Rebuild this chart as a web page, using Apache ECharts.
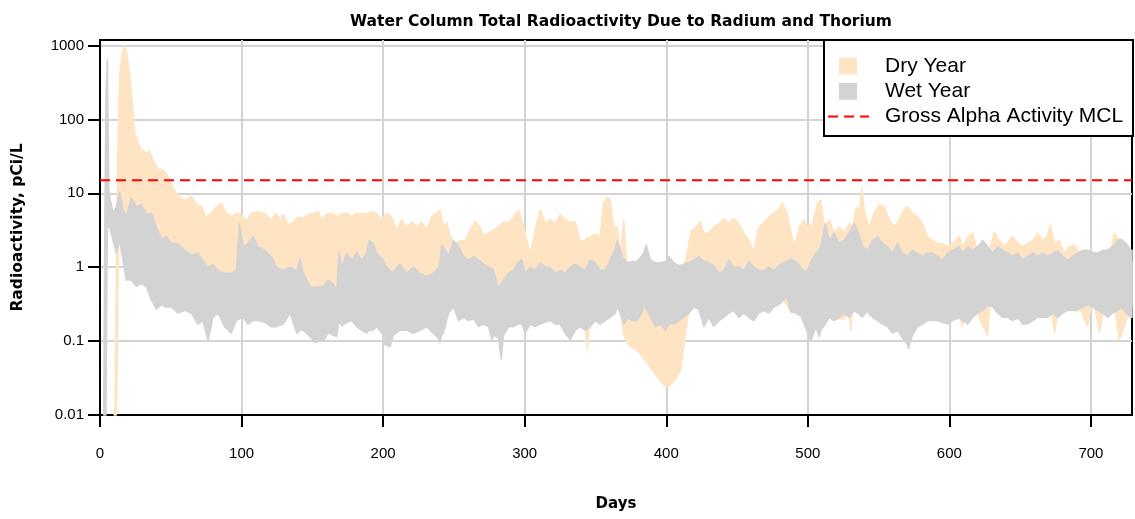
<!DOCTYPE html>
<html>
<head>
<meta charset="utf-8">
<script src="https://cdn.jsdelivr.net/npm/echarts@6.0.0/dist/echarts.min.js"></script>
<style>
html, body { margin: 0; padding: 0; background: #fff; }
#chart { width: 1135px; height: 519px; }
</style>
</head>
<body>
<div id="chart"></div>
<script>
// tick labels
const xTicks = [0, 100, 200, 300, 400, 500, 600, 700];
const yTicks = [0.01, 0.1, 1, 10, 100, 1000];
const xRange = [0, 729];
const mclLevel = 15;

// dry year envelope (pCi/L)
const dryDays = [10.0,10.6,11.5,12.2,12.7,13.4,14.1,15.5,17.4,19.3,21.0,22.1,23.3,24.5,26.8,29.2,32.7,35.0,37.4,41.0,44.5,46.8,49.2,52.7,56.3,59.8,64.5,68.0,71.6,75.1,78.6,82.2,85.7,89.2,92.7,96.3,99.8,103.3,106.9,111.6,116.3,121.0,
  124.0,127.2,129.5,133.0,136.6,140.1,143.6,147.2,150.7,154.2,156.6,160.1,163.6,167.2,170.7,174.2,177.8,181.3,184.8,188.4,191.9,195.4,199.0,202.5,206.0,209.6,213.1,216.6,220.1,223.7,227.2,230.7,234.3,237.8,240.2,242.5,
  245.0,247.4,250.9,254.4,258.0,261.5,265.0,268.6,270.9,274.5,278.0,281.5,285.0,288.6,292.1,295.6,298.0,301.5,303.9,307.4,311.0,314.5,318.0,321.5,325.1,328.6,332.1,335.7,339.2,342.7,344.3,346.3,349.8,353.3,355.7,358.0,360.4,362.8,
  365.4,367.7,370.0,372.0,374.8,379.5,383.0,386.5,390.0,393.6,397.1,400.2,403.0,406.5,410.1,412.4,414.8,417.6,420.7,423.7,426.6,430.1,433.6,437.2,440.7,444.2,447.7,451.3,454.8,458.3,461.9,465.4,468.9,472.5,476.0,479.5,481.9,485.4,
  488.0,490.4,494.0,497.4,499.8,503.3,506.9,509.2,511.6,515.1,518.6,522.2,525.7,529.2,530.4,531.6,534.4,536.3,538.2,540.1,543.4,546.9,550.4,553.9,557.5,561.0,564.5,568.1,570.4,573.9,577.5,581.0,584.5,588.1,591.6,595.1,598.7,602.2,607.0,
  609.4,611.8,614.1,616.5,618.9,621.2,624.7,627.0,628.3,631.8,635.3,638.9,642.4,644.7,648.3,651.8,655.3,658.9,662.4,665.9,669.0,671.4,674.2,677.7,681.2,684.8,688.3,691.8,695.4,697.7,700.0,702.4,706.0,709.5,713.0,716.5,720.1,723.6,728.3,729.0];
const dryHi = [0.0045,0.012,0.8,8,53,180,420,750,1000,710,380,250,135,65,50,39,35,38,28,21,21,18.7,15,11,9,8,9,7.3,6.6,4.8,5.4,6.6,7.4,5.4,4.8,5.4,5.2,4.2,5.4,5.7,5.4,4.4,
  5.4,4.4,5.2,3.7,4.1,4.8,4.6,5.2,5.4,5.7,4.4,5.2,5.4,4.8,5.2,5.4,4.8,5.4,5.2,5.4,5.7,5.4,4.4,5.4,4.8,3.2,4.4,3.5,4.1,3.5,4.1,3.2,4.8,5.4,6,3.5,
  4.0,2.6,2.1,2.3,2.3,3.2,4.2,3.5,2.7,2.9,3.2,3.5,4.1,4.0,4.8,6,4.4,2.3,1.55,3.2,6,3.9,4.4,3.9,5.2,4.4,4.1,4.1,2.3,2.3,2.5,2.6,2.8,2.6,7.4,9,8.1,3.5,
  3.5,1.55,4.4,1.2,0.9,0.9,0.9,0.9,0.85,0.8,0.8,0.8,0.8,0.8,0.9,1.0,1.55,3.1,3.4,4.2,2.9,2.9,3.5,3.9,4.6,3.9,4.6,3.9,2.9,2.3,1.7,3.5,4.0,4.8,5.4,6,7.4,5.4,
  3.0,1.9,3.5,4.4,3.5,3.9,7.4,8.1,3.5,4.4,2.9,3.5,2.9,3.9,3.7,3.5,6.6,6,11.7,5.4,3.5,5.4,7,6.6,4.4,3.5,4.4,6,6.6,5.4,4.8,3.9,2.6,2.3,2.1,2.1,1.9,2.1,2.6,
  1.9,2.3,2.7,2.9,1.9,1.55,1.55,1.6,1.7,3.0,2.3,1.9,2.3,2.6,2.1,1.9,2.1,2.3,2.9,2.3,2.6,3.7,2.1,2.3,1.55,1.9,2.0,1.55,1.4,1.45,1.5,1.55,1.4,1.55,1.4,2.9,2.3,1.55,1.25,1.2];
const dryLo = [0.004,0.004,0.004,0.05,0.5,3,4,4,4,4,4,4,3.5,3.5,3,3,2.5,2.5,2.2,2,1.8,1.6,1.5,1.3,1.2,1.1,1,1,0.9,0.8,0.7,0.6,0.6,0.6,0.6,0.6,0.6,0.6,0.6,0.6,0.6,0.6,
  0.6,0.6,0.6,0.6,0.6,0.6,0.55,0.5,0.5,0.5,0.5,0.5,0.5,0.45,0.5,0.5,0.5,0.5,0.5,0.5,0.5,0.5,0.5,0.5,0.5,0.5,0.5,0.5,0.5,0.5,0.5,0.5,0.45,0.42,0.42,0.45,
  0.5,0.5,0.5,0.5,0.5,0.5,0.5,0.5,0.5,0.5,0.5,0.45,0.45,0.5,0.5,0.5,0.5,0.5,0.5,0.5,0.5,0.5,0.5,0.5,0.5,0.5,0.5,0.5,0.3,0.15,0.08,0.2,0.4,0.4,0.4,0.4,0.4,0.4,
  0.3,0.25,0.12,0.1,0.084,0.075,0.062,0.05,0.041,0.033,0.027,0.024,0.026,0.03,0.041,0.084,0.19,0.3,0.4,0.4,0.4,0.4,0.4,0.4,0.4,0.4,0.4,0.4,0.4,0.4,0.4,0.4,0.4,0.4,0.4,0.4,0.4,0.3,
  0.25,0.25,0.22,0.3,0.3,0.3,0.3,0.3,0.3,0.3,0.2,0.2,0.2,0.25,0.14,0.3,0.3,0.3,0.3,0.3,0.22,0.3,0.3,0.3,0.3,0.3,0.3,0.3,0.3,0.3,0.3,0.3,0.3,0.3,0.2,0.18,0.2,0.2,0.2,
  0.16,0.3,0.3,0.3,0.3,0.2,0.15,0.12,0.3,0.3,0.3,0.3,0.2,0.2,0.2,0.2,0.3,0.3,0.3,0.3,0.3,0.3,0.13,0.3,0.3,0.3,0.3,0.3,0.2,0.16,0.3,0.3,0.13,0.3,0.3,0.3,0.104,0.16,0.3,0.3];

// wet year envelope (pCi/L)
const wetDays = [2.6,3.4,4.2,5.2,6.2,6.8,9.2,11.5,13.9,16.2,18.6,22.1,25.7,29.2,32.7,36.3,39.8,43.3,46.8,50.4,55.1,59.8,64.5,69.2,72.7,76.3,79.8,83.3,88.0,92.7,96.3,98.6,101.0,104.5,108.0,111.6,116.3,121.0,
  124.8,129.5,134.2,139.0,141.3,143.6,148.4,151.9,155.4,157.8,161.3,164.8,167.2,168.8,170.7,174.2,177.8,181.3,184.8,188.4,190.0,193.1,195.4,200.1,201.3,204.8,207.2,211.9,216.6,221.3,226.0,230.7,235.4,239.0,240.2,241.3,242.5,
  246.2,249.7,253.3,256.8,260.3,263.9,267.4,270.9,274.5,276.8,278.0,281.5,283.4,285.0,288.6,292.1,295.6,298.0,300.4,303.9,307.4,311.0,314.5,318.0,321.5,325.1,328.6,332.1,335.7,339.2,342.7,346.3,349.8,353.3,356.8,360.4,364.0,
  365.4,368.9,370.0,372.4,376.0,379.5,383.0,384.2,385.8,388.9,392.4,396.0,399.5,401.8,405.4,408.9,412.4,416.0,419.5,423.0,426.6,430.1,433.6,437.2,440.7,444.2,447.7,451.3,454.8,458.3,461.9,465.4,468.9,472.5,476.0,479.5,483.0,485.4,
  488.0,491.6,495.1,497.4,498.6,502.2,505.7,508.0,509.2,512.3,515.1,518.6,522.2,525.7,529.2,532.8,535.1,538.6,542.2,545.7,549.2,552.8,556.3,559.8,563.4,566.9,570.4,571.1,573.9,577.5,581.0,584.5,588.1,591.6,595.1,598.7,602.2,607.0,
  609.4,613.0,616.5,620.0,623.6,627.1,630.6,634.1,637.7,641.2,644.7,648.3,651.8,655.3,658.9,662.4,665.9,669.5,673.0,676.5,680.1,683.6,687.1,690.6,694.2,697.7,701.2,704.8,708.3,711.8,715.4,718.9,721.2,724.8,728.3,729.0];
const wetHi = [0.0045,3,200,650,12,9,5.4,6.6,10.5,6,5,8.6,6.6,7,5.2,5.4,3.5,2.4,2.6,2.1,2.1,1.7,1.45,1.55,1.25,1.0,1.1,0.9,0.83,0.83,0.9,3.9,1.9,2.1,2.6,1.9,1.7,1.4,
  1.0,0.9,1.0,0.9,1.3,0.83,0.55,0.53,0.55,0.55,0.67,0.6,0.49,1.6,1.0,1.55,1.25,1.6,1.25,1.55,2.3,2.1,1.55,1.25,1.1,0.9,0.86,1.1,0.83,1.0,0.83,0.75,0.83,1.0,1.2,2.0,1.9,
  1.4,2.3,1.9,1.4,1.25,1.4,1.25,1.1,1.0,0.95,0.9,0.53,0.6,0.67,0.83,0.9,1.2,1.25,0.83,1.0,0.9,1.15,1.0,1.0,0.83,0.9,0.83,1.0,1.1,1.0,0.9,1.25,1.15,0.9,0.9,1.25,1.8,
  2.3,1.4,1.3,1.15,1.2,1.2,1.45,1.6,2.0,1.25,1.15,1.15,1.2,1.4,1.15,1.05,1.1,1.15,1.25,1.4,1.2,1.15,1.05,0.83,0.9,1.25,1.0,1.0,0.9,1.2,1.0,0.9,0.9,1.0,0.9,1.05,1.15,1.2,
  1.3,1.2,1.0,0.9,0.83,1.2,1.55,1.7,1.9,3.9,2.3,2.9,2.1,2.3,2.9,3.9,3.2,1.9,1.7,2.3,2.6,2.1,1.9,1.55,2.1,1.55,1.4,1.45,1.7,1.55,1.4,1.55,1.55,1.4,1.25,1.55,1.7,1.9,
  1.55,1.9,1.7,1.9,2.3,1.9,1.55,1.9,1.7,1.55,1.4,1.55,1.25,1.4,1.55,1.4,1.55,1.4,1.55,1.7,1.4,1.25,1.4,1.55,1.7,1.7,1.6,1.55,1.7,1.7,1.9,2.3,2.4,2.1,1.7,1.7];
const wetLo = [0.004,0.004,0.004,4,3.5,3.5,2.3,1.55,2.3,1.25,0.67,0.67,0.55,0.6,0.55,0.36,0.27,0.31,0.29,0.29,0.24,0.26,0.24,0.17,0.19,0.1,0.21,0.24,0.157,0.128,0.19,0.2,0.21,0.17,0.19,0.19,0.18,0.157,
  0.157,0.17,0.24,0.128,0.14,0.14,0.115,0.095,0.104,0.1,0.13,0.12,0.115,0.19,0.16,0.18,0.19,0.157,0.14,0.128,0.14,0.14,0.157,0.12,0.09,0.084,0.12,0.14,0.14,0.128,0.14,0.157,0.128,0.11,0.095,0.12,0.128,
  0.24,0.29,0.19,0.21,0.19,0.2,0.157,0.17,0.157,0.104,0.12,0.11,0.057,0.12,0.157,0.157,0.17,0.17,0.128,0.17,0.157,0.17,0.18,0.19,0.17,0.17,0.128,0.104,0.14,0.157,0.14,0.157,0.19,0.17,0.19,0.21,0.24,
  0.3,0.2,0.17,0.21,0.19,0.19,0.25,0.31,0.28,0.21,0.157,0.17,0.14,0.17,0.17,0.19,0.21,0.24,0.29,0.27,0.157,0.21,0.157,0.19,0.21,0.24,0.26,0.21,0.24,0.21,0.19,0.24,0.26,0.24,0.29,0.31,0.36,0.4,
  0.25,0.24,0.22,0.17,0.15,0.1,0.157,0.115,0.14,0.17,0.21,0.19,0.21,0.24,0.21,0.26,0.24,0.21,0.26,0.21,0.19,0.17,0.157,0.128,0.14,0.11,0.09,0.08,0.12,0.157,0.17,0.19,0.19,0.19,0.18,0.17,0.19,0.21,
  0.19,0.17,0.21,0.24,0.26,0.31,0.29,0.24,0.21,0.21,0.19,0.21,0.17,0.17,0.19,0.21,0.21,0.21,0.24,0.21,0.24,0.26,0.26,0.26,0.29,0.31,0.29,0.26,0.24,0.21,0.24,0.26,0.29,0.24,0.21,0.21];

const dryColor = '#FFE4C4';
const wetColor = '#D3D3D3';
const font = 'Liberation Sans, Arial, Helvetica, sans-serif';

function pickTick(list, v) {
    const t = list.find(t => Math.abs(t - v) <= Math.abs(t) * 1e-6 + 1e-9);
    return t === undefined ? '' : String(t);
}

// one filled polygon per band: upper edge forward, lower edge back
function band(name, days, lo, hi, color) {
    return {
        name: name, type: 'custom', silent: true, color: color,
        data: days.map((d, i) => [d, lo[i], hi[i]]),
        encode: { x: 0, y: [1, 2] },
        renderItem: function (params, api) {
            if (params.dataIndexInside !== 0) return null;
            const bottom = params.coordSys.y + params.coordSys.height;
            const upper = [], lower = [];
            for (let i = 0; i < params.dataInsideLength; i++) {
                const d = api.value(0, i);
                const pLo = api.coord([d, api.value(1, i)]);
                const pHi = api.coord([d, api.value(2, i)]);
                upper.push([pHi[0], Math.min(pHi[1], bottom)]);
                lower.push([pLo[0], Math.min(pLo[1], bottom)]);
            }
            return {
                type: 'polygon',
                shape: { points: upper.concat(lower.reverse()) },
                style: { fill: color, stroke: color, lineWidth: 1.5, lineJoin: 'round' }
            };
        }
    };
}

const squareIcon = 'path://M0,0M41,17M11,0h18v17h-18z';

const option = {
    animation: false,
    textStyle: { fontFamily: font },
    title: {
        text: 'Water Column Total Radioactivity Due to Radium and Thorium',
        left: 616, top: 9, textAlign: 'center',
        textStyle: { fontFamily: 'DejaVu Sans', fontSize: 15.5, fontWeight: 'bold', color: '#000' }
    },
    grid: {
        left: 100, right: 3, top: 40, bottom: 104,
        show: true, borderColor: '#000', borderWidth: 2,
        backgroundColor: 'transparent', outerBoundsMode: 'none'
    },
    graphic: [{
        type: 'rect', z: 100, silent: true,
        shape: { x: 824, y: 40, width: 309, height: 96 },
        style: { fill: '#fff', stroke: '#000', lineWidth: 2 }
    }],
    legend: {
        z: 110, orient: 'vertical', left: 827, top: 55.5,
        itemWidth: 41, itemHeight: 17, itemGap: 4.3, padding: 0,
        selectedMode: false,
        textStyle: { fontFamily: font, fontSize: 21, color: '#000', lineHeight: 14, padding: [0, 0, 6, 11] },
        data: [
            { name: 'Dry Year', icon: squareIcon, itemStyle: { color: dryColor } },
            { name: 'Wet Year', icon: squareIcon, itemStyle: { color: wetColor } },
            { name: 'Gross Alpha Activity MCL', itemStyle: { opacity: 0 } }
        ]
    },
    xAxis: {
        type: 'value', min: xRange[0], max: xRange[1], interval: 100,
        name: 'Days', nameLocation: 'middle', nameGap: 82, nameMoveOverlap: false,
        nameTextStyle: { fontFamily: 'DejaVu Sans', fontSize: 15, fontWeight: 'bold', color: '#000' },
        axisLine: { show: true, onZero: false, lineStyle: { color: '#000', width: 2 } },
        axisTick: { show: true, length: 12, customValues: xTicks, lineStyle: { color: '#000', width: 2 } },
        axisLabel: { margin: 31, fontSize: 15, color: '#000', customValues: xTicks, formatter: v => pickTick(xTicks, v) },
        splitLine: { show: true, lineStyle: { color: '#D3D3D3', width: 2 } }
    },
    yAxis: {
        type: 'log', logBase: 10, min: yTicks[0], max: 1190,
        name: 'Radioactivity, pCi/L', nameLocation: 'middle', nameGap: 74, nameMoveOverlap: false,
        nameTextStyle: { fontFamily: 'DejaVu Sans', fontSize: 15.5, fontWeight: 'bold', color: '#000' },
        axisLine: { show: true, lineStyle: { color: '#000', width: 2 } },
        axisTick: { show: true, length: 12, customValues: yTicks, lineStyle: { color: '#000', width: 2 } },
        axisLabel: { margin: 16, fontSize: 15, color: '#000', customValues: yTicks, formatter: v => pickTick(yTicks, v) },
        splitLine: { show: true, lineStyle: { color: '#D3D3D3', width: 2 } },
        minorTick: { show: false }
    },
    series: [
        band('Dry Year', dryDays, dryLo, dryHi, dryColor),
        band('Wet Year', wetDays, wetLo, wetHi, wetColor),
        {
            name: 'Gross Alpha Activity MCL', type: 'line', silent: true,
            symbol: 'none', color: '#FF0000',
            lineStyle: { color: '#FF0000', width: 2, type: [10, 6] },
            data: [[xRange[0], mclLevel], [xRange[1], mclLevel]]
        }
    ]
};

const chart = echarts.init(document.getElementById('chart'));
chart.setOption(option);
</script>
</body>
</html>
